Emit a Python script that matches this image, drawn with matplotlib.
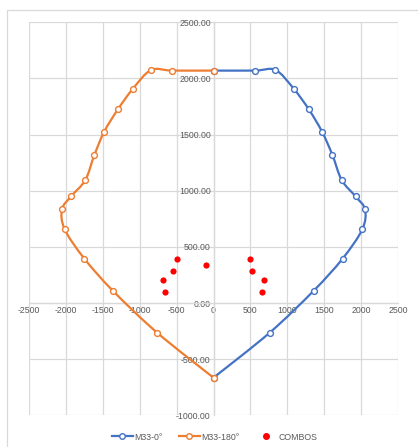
import matplotlib
matplotlib.use("Agg")
import matplotlib.pyplot as plt
import numpy as np
from matplotlib.path import Path
from matplotlib.patches import PathPatch, Rectangle
from matplotlib.lines import Line2D

# Interaction diagram M33 (moment) vs axial load
m33_0_x = [0, 560, 840, 1085, 1290, 1470, 1612, 1737, 1925, 2053, 2016, 1750, 1360, 760, 0]
m33_0_y = [2070, 2070, 2075, 1910, 1726, 1527, 1317, 1095, 949, 834, 656, 396, 111, -265, -665]
m33_180_x = [0, -560, -845, -1090, -1294, -1480, -1615, -1737, -1931, -2053, -2016, -1751, -1366, -762, 0]
m33_180_y = [2070, 2070, 2075, 1910, 1726, 1527, 1317, 1095, 949, 834, 656, 396, 111, -265, -665]
combos_x = [-500, -105, -545, -685, -655, 495, 525, 680, 655]
combos_y = [396, 342, 283, 209, 102, 396, 283, 209, 102]

x_ticks = [-2500, -2000, -1500, -1000, -500, 0, 500, 1000, 1500, 2000, 2500]
y_ticks = [-1000, -500, 0, 500, 1000, 1500, 2000, 2500]

BLUE = "#4472C4"
ORANGE = "#ED7D31"
RED = "#FF0000"
GRID = "#D9D9D9"
TXT = "#595959"


def smooth_path(xs, ys):
    """Catmull-Rom style cubic Bezier path through the given points."""
    pts = np.column_stack([xs, ys]).astype(float)
    n = len(pts)
    verts = [pts[0]]
    codes = [Path.MOVETO]
    for i in range(n - 1):
        p0 = pts[i - 1] if i > 0 else pts[i]
        p1 = pts[i]
        p2 = pts[i + 1]
        p3 = pts[i + 2] if i + 2 < n else pts[i + 1]
        c1 = p1 + (p2 - p0) / 6.0
        c2 = p2 - (p3 - p1) / 6.0
        verts += [c1, c2, p2]
        codes += [Path.CURVE4] * 3
    return Path(verts, codes)


fig = plt.figure(figsize=(4.18, 4.47), dpi=100)
ax = fig.add_axes([29 / 418, 1 - 415.3 / 447, 369 / 418, (415.3 - 22.3) / 447])

# chart frame
fig.patches.append(Rectangle((7 / 418, -0.1), 1.2, 1 - 10 / 447 + 0.1,
                             transform=fig.transFigure, fill=False,
                             edgecolor=GRID, linewidth=0.9))

ax.set_xlim(-2500, 2500)
ax.set_ylim(-1000, 2500)
ax.set_xticks(x_ticks)
ax.set_yticks(y_ticks)
ax.set_xticklabels([f"{v}" for v in x_ticks])
ax.set_yticklabels([f"{v:.2f}" for v in y_ticks])
ax.grid(True, color=GRID, linewidth=0.9)
ax.set_axisbelow(True)
for gl in ax.get_xgridlines() + ax.get_ygridlines():
    gl.set_clip_on(False)

for side in ("top", "right"):
    ax.spines[side].set_visible(False)
ax.spines["left"].set_position(("data", 0))
ax.spines["bottom"].set_position(("data", 0))
for side in ("left", "bottom"):
    ax.spines[side].set_color(GRID)
    ax.spines[side].set_linewidth(0.9)
ax.tick_params(length=0, labelsize=6.3, labelcolor=TXT, pad=2)
for lbl in ax.get_xticklabels() + ax.get_yticklabels():
    lbl.set_family("Liberation Sans")

for xs, ys, col in ((m33_0_x, m33_0_y, BLUE), (m33_180_x, m33_180_y, ORANGE)):
    ax.add_patch(PathPatch(smooth_path(xs, ys), facecolor="none", edgecolor=col,
                           linewidth=1.6, zorder=3, capstyle="round"))
    ax.plot(xs, ys, linestyle="none", marker="o", markersize=4.2,
            markerfacecolor="white", markeredgecolor=col, markeredgewidth=1.0, zorder=4)

ax.scatter(combos_x, combos_y, s=20, color=RED, zorder=5, linewidths=0)

handles = [
    Line2D([], [], color=BLUE, linewidth=1.6, marker="o", markersize=4,
           markerfacecolor="white", markeredgecolor=BLUE),
    Line2D([], [], color=ORANGE, linewidth=1.6, marker="o", markersize=4,
           markerfacecolor="white", markeredgecolor=ORANGE),
    Line2D([], [], color=RED, linestyle="none", marker="o", markersize=4),
]
fig.legend(handles, ["M33-0°", "M33-180°", "COMBOS"], loc="center",
           bbox_to_anchor=(0.513, 1 - 437 / 447), ncol=3, frameon=False,
           prop={"family": "Liberation Sans", "size": 6.3}, labelcolor=TXT,
           handlelength=2.4, handletextpad=0.2, columnspacing=1.8, numpoints=1)

fig.savefig("out.png", dpi=100)
